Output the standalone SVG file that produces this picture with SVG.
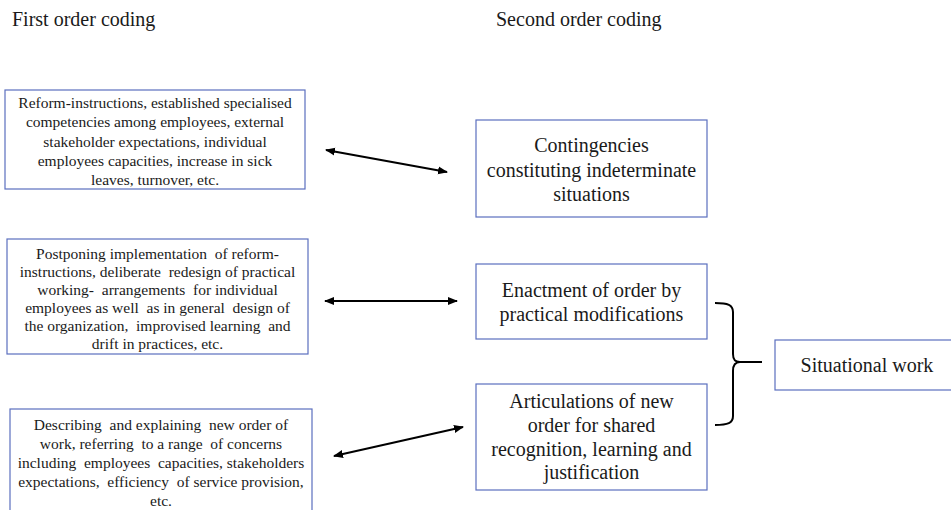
<svg xmlns="http://www.w3.org/2000/svg" width="951" height="510" viewBox="0 0 951 510">
<defs>
<style>
.box{fill:#fff;stroke:#5b6fbf;stroke-width:1.2}
text{font-family:"Liberation Serif","Times New Roman",serif;fill:#1a1a1a}
.t{text-anchor:middle}
.s{font-size:15.5px}
.b{font-size:20px}
.h{font-size:20px}
.c{stroke:#000;stroke-width:2;fill:none}
</style>
<marker id="ah" viewBox="0 0 10 10" refX="9" refY="5" markerWidth="5" markerHeight="5" orient="auto-start-reverse">
<path d="M0,1 L10,5 L0,9 Z" fill="#000"/>
</marker>
</defs>
<rect width="951" height="510" fill="#fff"/>
<text class="h" x="12" y="26">First order coding</text>
<text class="h" x="496" y="26">Second order coding</text>

<g id="n1">
<rect class="box" x="5" y="90" width="300" height="99"/>
<text class="t s" xml:space="preserve"><tspan x="155" y="108">Reform-instructions, established specialised</tspan><tspan x="155" y="127">competencies among employees, external</tspan><tspan x="155" y="146.5">stakeholder expectations, individual</tspan><tspan x="155" y="166">employees capacities, increase in sick</tspan><tspan x="155" y="185">leaves, turnover, etc.</tspan></text>
</g>
<g id="n2">
<rect class="box" x="7" y="239" width="301" height="115"/>
<text class="t s" xml:space="preserve"><tspan x="157.5" y="259">Postponing implementation  of reform-</tspan><tspan x="157.5" y="277">instructions, deliberate  redesign of practical</tspan><tspan x="157.5" y="295">working-  arrangements  for individual</tspan><tspan x="157.5" y="313">employees as well  as in general  design of</tspan><tspan x="157.5" y="331">the organization,  improvised learning  and</tspan><tspan x="157.5" y="349">drift in practices, etc.</tspan></text>
</g>
<g id="n3">
<rect class="box" x="10" y="409" width="302" height="106"/>
<text class="t s" xml:space="preserve"><tspan x="161" y="430">Describing  and explaining  new order of</tspan><tspan x="161" y="449">work, referring  to a range  of concerns</tspan><tspan x="161" y="468">including  employees  capacities, stakeholders</tspan><tspan x="161" y="487">expectations,  efficiency  of service provision,</tspan><tspan x="161" y="506">etc.</tspan></text>
</g>
<g id="n4">
<rect class="box" x="476" y="120" width="231" height="97"/>
<text class="t b"><tspan x="591.5" y="152">Contingencies</tspan><tspan x="591.5" y="177">constituting indeterminate</tspan><tspan x="591.5" y="201">situations</tspan></text>
</g>
<g id="n5">
<rect class="box" x="476" y="264" width="231" height="75"/>
<text class="t b"><tspan x="591.5" y="297">Enactment of order by</tspan><tspan x="591.5" y="321">practical modifications</tspan></text>
</g>
<g id="n6">
<rect class="box" x="476" y="384" width="231" height="106"/>
<text class="t b"><tspan x="591.5" y="408">Articulations of new</tspan><tspan x="591.5" y="432">order for shared</tspan><tspan x="591.5" y="456">recognition, learning and</tspan><tspan x="591.5" y="479">justification</tspan></text>
</g>
<g id="n7">
<rect class="box" x="775" y="340" width="185" height="50"/>
<text class="t b" x="867" y="372">Situational work</text>
</g>

<g id="connectors">
<line class="c" x1="326" y1="150" x2="447" y2="172" marker-start="url(#ah)" marker-end="url(#ah)"/>
<line class="c" x1="325" y1="301" x2="457" y2="301" marker-start="url(#ah)" marker-end="url(#ah)"/>
<line class="c" x1="334" y1="456" x2="463" y2="427" marker-start="url(#ah)" marker-end="url(#ah)"/>
<path class="c" stroke-width="2.5" d="M715,303 C728,303 733,305 733,312 L733,354 C733,360 735,362 740,362 C735,362 733,365 733,371 L733,416 C733,423 728,425 715,425"/>
<line class="c" x1="738" y1="362" x2="762" y2="362"/>
</g>
</svg>
